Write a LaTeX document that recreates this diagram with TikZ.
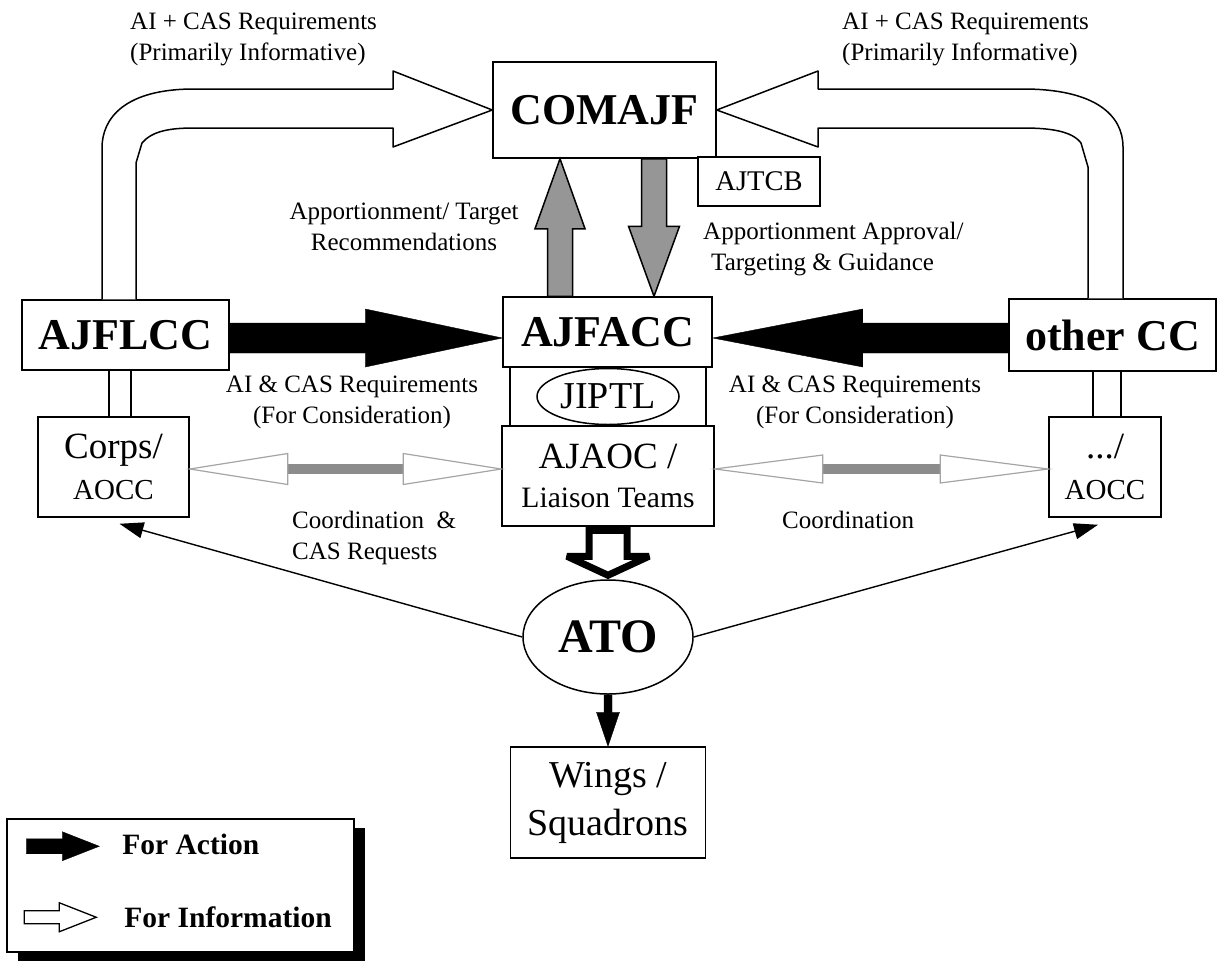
\documentclass[tikz,border=0pt]{standalone}
\usepackage{fontspec}
\setmainfont{Liberation Serif}
\usetikzlibrary{calc,shapes.geometric,shadows,arrows.meta}
\definecolor{apgray}{RGB}{150,150,150}
\definecolor{cogray}{RGB}{140,140,140}
\definecolor{cohead}{RGB}{165,165,165}
\def\blockarrow[#1](#2)(#3)(#4:#5:#6){%
	\coordinate (ba) at ($(#3)!#6!(#2)$);
	\draw[#1] ($(#2)!#4!90:(#3)$) -- ($(ba)!#4!90:(#3)$) -- ($(ba)!#5!90:(#3)$) -- (#3)
		-- ($(ba)!#5!-90:(#3)$) -- ($(ba)!#4!-90:(#3)$) -- ($(#2)!#4!-90:(#3)$) -- cycle;}
\def\twowayarrow(#1)(#2)(#3:#4){%
	\coordinate (tw1) at ($(#1)!#3!(#2)$);
	\coordinate (tw2) at ($(#2)!#3!(#1)$);
	\draw[cogray, line width=10pt] (tw1) -- (tw2);
	\draw[cohead, line width=1.2pt, fill=white] (#1) -- ($(tw1)!#4!90:(tw2)$) -- ($(tw1)!#4!-90:(tw2)$) -- cycle;
	\draw[cohead, line width=1.2pt, fill=white] (#2) -- ($(tw2)!#4!90:(tw1)$) -- ($(tw2)!#4!-90:(tw1)$) -- cycle;}

\begin{document}
\begin{tikzpicture}[x=1pt,y=-1pt,
	unit/.style={draw, line width=1.5pt, inner sep=0pt, align=center, fill=white},
	cmd/.style={unit, font=\fontsize{44}{48}\selectfont\bfseries},
	lbl/.style={inner sep=0pt, font=\fontsize{25}{31}\selectfont},
	link/.style={line width=1.5pt},
	thinarr/.style={line width=1.4pt, -{Triangle[length=24pt,width=16pt]}},
	infoarrow/.style={line width=1.5pt, fill=white, line join=round}]
		%%%%% START %%%%%
		\useasboundingbox (0,0) rectangle (1217,961);
		
		% commanders and cells
		\node[cmd, minimum width=223pt, minimum height=96pt] (comajf) at (604.5,110) {COMAJF};
		\node[unit, minimum width=122pt, minimum height=49pt, font=\fontsize{28.5}{30}\selectfont] (ajtcb) at (759,181.5) {AJTCB};
		\node[cmd, minimum width=207pt, minimum height=70pt] (ajflcc) at (125.5,335) {AJFLCC};
		\node[cmd, minimum width=209pt, minimum height=70pt] (ajfacc) at (607.5,332) {AJFACC};
		\node[cmd, minimum width=207pt, minimum height=72pt] (othercc) at (1112.5,335) {other CC};
		\node[unit, minimum width=196pt, minimum height=59pt] (jiptlbox) at (608,396.5) {};
		\node[unit, ellipse, minimum width=142pt, minimum height=56pt, font=\fontsize{38}{40}\selectfont] (jiptl) at (jiptlbox) {JIPTL};
		\node[unit, minimum width=212pt, minimum height=100pt, font=\fontsize{37}{39}\selectfont] (ajaoc) at (608,476) {AJAOC /\\{\fontsize{29.6}{39}\selectfont Liaison Teams}};
		\node[unit, minimum width=151pt, minimum height=100pt, font=\fontsize{37}{41}\selectfont] (corps) at (113.5,467) {Corps/\\{\fontsize{29}{41}\selectfont AOCC}};
		\node[unit, minimum width=112pt, minimum height=100pt, font=\fontsize{37}{41}\selectfont] (aocc) at (1105,467) {.../\\{\fontsize{29}{41}\selectfont AOCC}};
		\node[unit, ellipse, minimum width=170pt, minimum height=114pt, font=\fontsize{48}{50}\selectfont\bfseries] (ato) at (608,637) {ATO};
		\node[unit, minimum width=195pt, minimum height=111pt, font=\fontsize{38}{48}\selectfont] (wings) at (608,802.5) {Wings /\\Squadrons};
		
		% labels
		\node[lbl, anchor=north west, align=left] (infoL) at (130,13) {AI + CAS Requirements\\(Primarily Informative)};
		\node[lbl, anchor=north west, align=left] (infoR) at (842,13) {AI + CAS Requirements\\(Primarily Informative)};
		\node[lbl, anchor=north, align=center] (recomm) at (404,203) {Apportionment/ Target\\Recommendations};
		\node[lbl, anchor=north west, align=left] (approv) at (703,222) {Apportionment Approval/\\\hspace*{8pt}Targeting \& Guidance};
		\node[lbl, anchor=north, align=center] (reqL) at (352,376) {AI \& CAS Requirements\\(For Consideration)};
		\node[lbl, anchor=north, align=center] (reqR) at (855,376) {AI \& CAS Requirements\\(For Consideration)};
		\node[lbl, anchor=north west, align=left] (coordL) at (292,511) {Coordination\ \ \&\\CAS Requests};
		\node[lbl, anchor=north west] (coordR) at (782,511) {Coordination};
		
		% information arrows round the top
		\draw[infoarrow] ($(ajflcc.north)+(-23.5,0)$) -- (102,148) .. controls (102,118) and (125,89) .. (194,89) -- (393,89) -- (393,71) -- (comajf.west)
			-- (393,147) -- (393,128) -- (194,128) .. controls (170,128) and (152,131) .. (142,143) -- (136,163) -- ($(ajflcc.north)+(10.5,0)$);
		\draw[infoarrow] ($(othercc.north)+(10.5,0)$) -- (1123,147) .. controls (1123,115) and (1095,89) .. (1023,89) -- (818,89) -- (818,71) -- (comajf.east)
			-- (818,147) -- (818,128) -- (1023,128) .. controls (1050,128) and (1072,131) .. (1081,143) -- (1088,167) -- ($(othercc.north)+(-24.5,0)$);
		
		% apportionment up and down
		\coordinate (upx) at (560,0);
		\coordinate (dnx) at (654,0);
		\coordinate (upS) at (upx |- ajfacc.north);
		\coordinate (upE) at (upx |- comajf.south);
		\blockarrow[fill=apgray, line width=1.5pt](upS)(upE)(12.5pt:25pt:70pt)
		\coordinate (dnS) at (dnx |- comajf.south);
		\coordinate (dnE) at (dnx |- ajfacc.north);
		\blockarrow[fill=apgray, line width=1.5pt](dnS)(dnE)(12.5pt:25.5pt:70pt)
		
		% requirements for action
		\coordinate (acty) at (0,338);
		\coordinate (lS) at (ajflcc.east |- acty);
		\coordinate (lE) at (ajfacc.west |- acty);
		\blockarrow[fill=black](lS)(lE)(15pt:29pt:137pt)
		\coordinate (rS) at (othercc.west |- acty);
		\coordinate (rE) at (ajfacc.east |- acty);
		\blockarrow[fill=black](rS)(rE)(15pt:29pt:150pt)
		
		% double links down to the AOCCs
		\foreach \dx in {-16.5,5.5}
			\draw[link] ($(ajflcc.south)+(\dx,0)$) -- ($(corps.north)+(\dx+12,0)$);
		\foreach \dx in {-19.5,8.5}
			\draw[link] ($(othercc.south)+(\dx,0)$) -- ($(aocc.north)+(\dx+7.5,0)$);
		
		% coordination
		\coordinate (coy) at (0,469);
		\coordinate (cL1) at (corps.east |- coy);
		\coordinate (cL2) at (ajaoc.west |- coy);
		\twowayarrow(cL1)(cL2)(98pt:15.5pt)
		\coordinate (cR1) at (ajaoc.east |- coy);
		\coordinate (cR2) at (aocc.west |- coy);
		\twowayarrow(cR1)(cR2)(108pt:14pt)
		
		% ATO
		\coordinate (hS) at ([yshift=-3.5pt]ajaoc.south);
		\coordinate (hE) at ([yshift=4pt]ato.north);
		\blockarrow[fill=white, line width=7pt, miter limit=3](hS)(hE)(19pt:41pt:19pt)
		\blockarrow[fill=black](ato.south)(wings.north)(4pt:11.5pt:34pt)
		\draw[thinarr] (ato.west) -- ([shift={(6,6)}]corps.south);
		\draw[thinarr] (ato.east) -- ([shift={(-7,7)}]aocc.south);
		
		% legend
		\node[draw, line width=1.5pt, fill=white, inner sep=0pt, minimum width=347pt, minimum height=133pt,
			drop shadow={shadow xshift=11pt, shadow yshift=-9pt, fill=black, opacity=1}] (legend) at (180.5,885.5) {};
		\coordinate (actS) at ($(legend.north west)+(20,28)$);
		\coordinate (actE) at ($(legend.north west)+(93,28)$);
		\blockarrow[fill=black](actS)(actE)(7.5pt:14.5pt:37pt)
		\coordinate (infS) at ($(legend.north west)+(18,99)$);
		\coordinate (infE) at ($(legend.north west)+(90,99)$);
		\blockarrow[fill=white, line width=1.3pt](infS)(infE)(6.5pt:14.5pt:37pt)
		\node[anchor=west, inner sep=0pt, font=\fontsize{29.5}{32}\selectfont\bfseries] (action) at ($(actE)+(23,-1.5)$) {For Action};
		\node[anchor=west, inner sep=0pt, font=\fontsize{29.5}{32}\selectfont\bfseries] (inform) at ($(infE)+(28,0)$) {For Information};
		%%%%% END %%%%%
\end{tikzpicture}
\end{document}
